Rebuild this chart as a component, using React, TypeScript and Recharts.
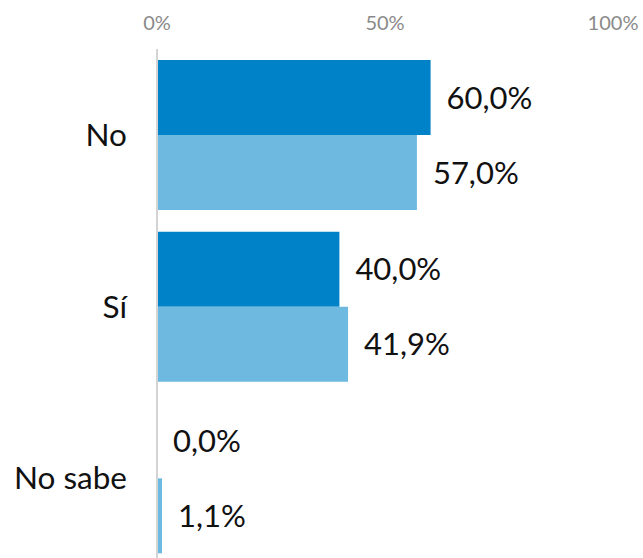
import React from 'react';
import { BarChart, Bar, XAxis, YAxis, LabelList } from 'recharts';

const categories = ['No', 'Sí', 'No sabe'];
const seriesA = [60.0, 40.0, 0.0];
const seriesB = [57.0, 41.9, 1.1];
const xTicks = [0, 50, 100];

const data = categories.map((name, i) => ({ name, a: seriesA[i], b: seriesB[i] }));

const fmt = (v: any) => `${Number(v).toFixed(1).replace('.', ',')}%`;

const labelStyle = { fontSize: 31, fill: '#111', fontFamily: 'Lato, sans-serif' };

export default function App() {
  return (
    <div style={{ position: 'fixed', top: 0, left: 0, width: 643, height: 558, overflow: 'hidden', background: '#fff' }}>
      <BarChart
        width={643}
        height={570}
        data={data}
        layout="vertical"
        margin={{ top: 0, right: 30, bottom: 6, left: 0 }}
        barCategoryGap={11}
        barGap={0}
        style={{ fontFamily: 'Lato, sans-serif' }}
      >
        <XAxis
          type="number"
          orientation="top"
          domain={[0, 100]}
          ticks={xTicks}
          tickFormatter={(v: number) => `${v}%`}
          axisLine={false}
          tickLine={false}
          tickSize={0}
          tickMargin={19}
          height={49}
          tick={{ fontSize: 20, fill: '#8a8a8a', fontFamily: 'Lato, sans-serif' }}
        />
        <YAxis
          type="category"
          dataKey="name"
          width={157}
          axisLine={{ stroke: '#d4d4d4', strokeWidth: 2 }}
          tickLine={false}
          tickSize={0}
          tickMargin={30}
          tick={{ fontSize: 31.5, fill: '#111', fontFamily: 'Lato, sans-serif' }}
        />
        <Bar dataKey="a" fill="#0082C8" isAnimationActive={false} minPointSize={(v: number) => (v === 0 ? 0.01 : 0)}>
          <LabelList dataKey="a" position="right" offset={16} formatter={fmt} style={labelStyle} />
        </Bar>
        <Bar dataKey="b" fill="#6DB9E0" isAnimationActive={false}>
          <LabelList dataKey="b" position="right" offset={16} formatter={fmt} style={labelStyle} />
        </Bar>
      </BarChart>
    </div>
  );
}
